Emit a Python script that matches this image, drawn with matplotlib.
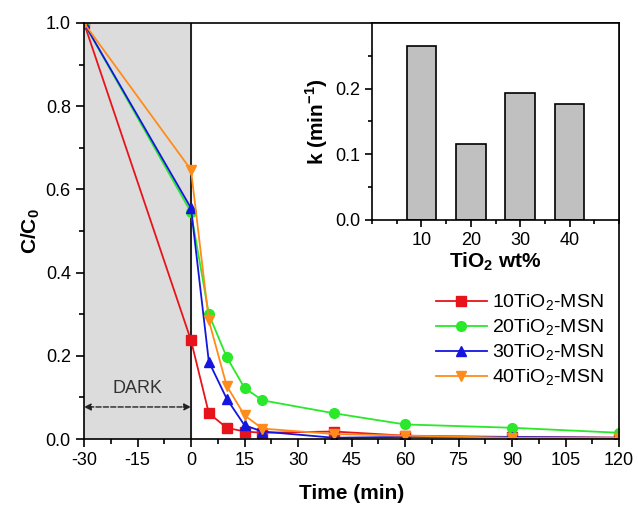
import numpy as np
import matplotlib.pyplot as plt
from matplotlib.ticker import MultipleLocator

plt.rcParams['font.family'] = ['Liberation Sans', 'DejaVu Sans']
plt.rcParams['mathtext.fontset'] = 'custom'
plt.rcParams['mathtext.rm'] = 'Liberation Sans'
plt.rcParams['mathtext.bf'] = 'Liberation Sans:bold'
plt.rcParams['axes.unicode_minus'] = False

# time in minutes (dark period starts at -30)
t = [-30, 0, 5, 10, 15, 20, 40, 60, 90, 120]
c10 = [1.0, 0.237, 0.062, 0.027, 0.018, 0.015, 0.018, 0.008, 0.005, 0.003]
c20 = [1.0, 0.545, 0.300, 0.197, 0.123, 0.093, 0.062, 0.035, 0.027, 0.015]
c30 = [1.0, 0.555, 0.186, 0.097, 0.033, 0.018, 0.003, 0.005, 0.005, 0.003]
c40 = [1.0, 0.647, 0.285, 0.128, 0.057, 0.025, 0.012, 0.008, 0.003, 0.003]

wt = [10, 20, 30, 40]
k = [0.265, 0.115, 0.194, 0.177]

fig = plt.figure(figsize=(6.38, 5.08), dpi=100)
ax = fig.add_axes([84/638, 1-439/508, (619-84)/638, (439-23)/508])

ax.axvspan(-30, 0, color='#dcdcdc', zorder=0)
ax.axvline(0, color='black', lw=1.2, zorder=1)

ax.plot(t, c10, '-s', color='#e8141b', ms=6.5, lw=1.3, label='10TiO$_2$-MSN')
ax.plot(t, c20, '-o', color='#2ae82a', ms=7, lw=1.3, label='20TiO$_2$-MSN')
ax.plot(t, c30, '-^', color='#1515e0', ms=7.5, lw=1.3, label='30TiO$_2$-MSN')
ax.plot(t, c40, '-v', color='#ff8c1a', ms=7.5, lw=1.3, label='40TiO$_2$-MSN')

ax.annotate('', xy=(-30, 0.077), xytext=(0, 0.077),
            arrowprops=dict(arrowstyle='<|-|>', ls='--', color='#222222', lw=1.0,
                            mutation_scale=10, shrinkA=0, shrinkB=0))
ax.text(-15, 0.1, 'DARK', ha='center', va='bottom', fontsize=13, color='#333333')

ax.set_xlim(-30, 120)
ax.set_ylim(0, 1.0)
ax.xaxis.set_major_locator(MultipleLocator(15))
ax.xaxis.set_minor_locator(MultipleLocator(7.5))
ax.yaxis.set_major_locator(MultipleLocator(0.2))
ax.yaxis.set_minor_locator(MultipleLocator(0.1))
ax.yaxis.set_major_formatter(lambda v, p: f'{v:.1f}')
ax.tick_params(which='both', direction='out', labelsize=13, width=1.2)
ax.tick_params(which='major', length=6)
ax.tick_params(which='minor', length=3.5)
for s in ax.spines.values():
    s.set_linewidth(1.2)
ax.set_xlabel('Time (min)', fontsize=15, fontweight='bold', labelpad=11)
ax.set_ylabel('C/C$_\\mathbf{0}$', fontsize=15, fontweight='bold', labelpad=3)

ax.legend(loc='lower right', bbox_to_anchor=(1.005, 0.08), frameon=False,
          fontsize=14, handlelength=2.6, handletextpad=0.3, labelspacing=0.25)

# inset with rate constants
ins = fig.add_axes([372/638, 1-220/508, (619-372)/638, (220-23)/508])
ins.bar(wt, k, width=6, color='#c0c0c0', edgecolor='black', lw=1.2)
ins.set_xlim(0, 50)
ins.set_ylim(0, 0.3)
ins.set_xticks(wt)
ins.set_yticks([0.0, 0.1, 0.2])
ins.set_yticks([0.05, 0.15, 0.25], minor=True)
ins.xaxis.set_minor_locator(MultipleLocator(5))
ins.yaxis.set_major_formatter(lambda v, p: f'{v:.1f}')
ins.tick_params(which='both', direction='out', labelsize=13, width=1.2)
ins.tick_params(which='major', length=5)
ins.tick_params(which='minor', length=3)
for s in ins.spines.values():
    s.set_linewidth(1.2)
ins.set_xlabel('TiO$_\\mathbf{2}$ wt%', fontsize=15, fontweight='bold', labelpad=1)
ins.set_ylabel('k (min$^\\mathbf{-1}$)', fontsize=15, fontweight='bold', labelpad=4)

fig.savefig('out.png', dpi=100)
